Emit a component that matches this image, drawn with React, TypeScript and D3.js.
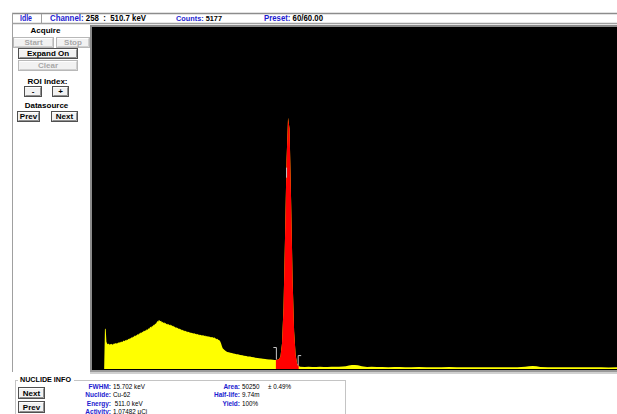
import React from 'react';
import * as d3 from 'd3';

// Spectrum data
const lowStartChannel = 17; // counts below are for channels 17, 18, 19, ...
const lowCounts: number[] = [
  820, 835, 560, 520, 510, 525, 500, 515, 505, 520, 498, 510, 530, 515, 535, 520, 540, 528, 550, 540,
  560, 548, 565, 555, 575, 590, 570, 598, 585, 610, 600, 625, 612, 640, 630, 655, 645, 670, 660, 690,
  675, 700, 690, 720, 705, 735, 725, 750, 740, 770, 755, 790, 780, 800, 790, 820, 805, 840, 825, 850,
  870, 855, 890, 875, 910, 900, 940, 925, 960, 990, 975, 1010, 1000, 985, 995, 960, 975, 950, 965, 940,
  950, 920, 935, 910, 925, 900, 915, 890, 905, 880, 890, 865, 875, 850, 860, 838, 848, 825, 835, 812,
  822, 800, 808, 790, 798, 780, 788, 770, 778, 760, 768, 752, 760, 742, 748, 735, 742, 728, 735, 720,
  728, 712, 720, 705, 712, 698, 706, 692, 700, 685, 694, 680, 688, 672, 682, 668, 676, 660, 670, 652,
  662, 648, 660, 640, 652, 628, 636, 615, 622, 605, 598, 585, 560, 520, 470, 430,
];
const comptonTail: [number, number][] = [
  [174, 395], [176, 372], [178, 352], [180, 345], [182, 334], [184, 330], [186, 320], [188, 316],
  [190, 305], [192, 302], [195, 290], [198, 285], [200, 275], [203, 270], [205, 260], [208, 256],
  [210, 245], [213, 240], [215, 230], [218, 226], [220, 220], [223, 216], [225, 210], [228, 206],
  [230, 200], [233, 198], [235, 195], [238, 191], [240, 188],
];
const roiPeak: [number, number][] = [
  [242, 185], [244, 190], [246, 200], [248, 260], [250, 520], [252, 1250], [254, 2700],
  [256, 4300], [258, 5177], [260, 4950], [262, 3500], [264, 1850], [266, 780], [268, 290],
  [270, 110], [272, 60],
];
const highTail: [number, number][] = [
  [274, 45], [280, 42], [285, 46], [290, 40], [295, 43], [300, 44], [305, 39], [310, 41], [315, 46],
  [320, 45], [325, 48], [330, 50], [334, 58], [338, 70], [342, 80], [346, 84], [350, 78], [355, 55],
  [362, 42], [368, 44], [375, 40], [382, 42], [390, 38], [398, 41], [405, 40], [412, 36], [420, 37],
  [430, 40], [440, 38], [450, 35], [460, 36], [470, 39], [480, 37], [490, 34], [500, 35], [510, 38],
  [520, 36], [530, 34], [540, 35], [550, 38], [560, 37], [570, 45], [575, 58], [580, 62], [585, 55],
  [590, 40], [600, 37], [610, 36], [620, 38], [630, 35], [640, 36], [650, 34], [660, 37], [670, 36],
  [680, 33], [690, 34], [700, 35], [710, 33],
];
const cursorChannel = 258;
const cursorCounts = 4150;
const roiBounds = [242, 272];

const statusLabels = ['Channel:', 'Counts:', 'Preset:'];
const statusValues = ['258  :  510.7 keV', '5177', '60/60.00'];
const nuclideLabelsL = ['FWHM:', 'Nuclide:', 'Energy:', 'Activity:'];
const nuclideValuesL = ['15.702 keV', 'Cu-62', ' 511.0 keV', '1.07482 μCi'];
const nuclideLabelsR = ['Area:', 'Half-life:', 'Yield:'];
const nuclideValuesR = ['50250', '9.74m', '100%'];

const FONT = '"Liberation Sans", Arial, sans-serif';
const BLUE = '#1c1cd0';

function Btn({ x, y, w, h, label, disabled }: { x: number; y: number; w: number; h: number; label: string; disabled?: boolean }) {
  return (
    <g>
      <rect x={x + 0.5} y={y + 0.5} width={w} height={h} fill="#f2f2f2" stroke={disabled ? '#b8b8b8' : '#505050'} />
      <line x1={x + 1.5} y1={y + 1.5} x2={x + w - 0.5} y2={y + 1.5} stroke="#ffffff" />
      <line x1={x + w - 0.5} y1={y + 1.5} x2={x + w - 0.5} y2={y + h - 0.5} stroke={disabled ? '#d0d0d0' : '#909090'} />
      <line x1={x + 1.5} y1={y + h - 0.5} x2={x + w - 0.5} y2={y + h - 0.5} stroke={disabled ? '#d0d0d0' : '#909090'} />
      <text x={x + w / 2 + 0.5} y={y + h - 2.5} textAnchor="middle" fontFamily={FONT} fontWeight="bold" fontSize={8}
        fill={disabled ? '#a8a8a8' : '#000'}>{label}</text>
    </g>
  );
}

export default function App() {
  const low: [number, number][] = lowCounts.map((c, i) => [lowStartChannel + i, c]);
  const spectrum: [number, number][] = [[0, 0], [lowStartChannel - 1, 0], ...low, ...comptonTail, ...roiPeak, ...highTail];
  const x = d3.scaleLinear().domain([0, 1024]).range([92, 92 + 1024 / 1.316]);
  const y = d3.scaleLinear().domain([0, 7070]).range([369, 26]);
  const area = d3.area<[number, number]>().x(d => x(d[0])).y0(y(0)).y1(d => y(d[1])).curve(d3.curveLinear);
  const yellowPath = area(spectrum) || '';
  const redPath = area(roiPeak) || '';
  const roiL = roiPeak[0];
  const roiR = roiPeak[roiPeak.length - 1];
  const cx = x(cursorChannel) - 1.5;
  const cy = y(cursorCounts);
  const st = { fontFamily: FONT, fontWeight: 'bold' as const, fontSize: 8.5 };

  return (
    <svg width={617} height={414} style={{ position: 'absolute', left: 0, top: 0, background: '#fff' }}>
      <rect x={0} y={0} width={617} height={414} fill="#fff" />
      {/* status bar */}
      <line x1={12} y1={13.5} x2={617} y2={13.5} stroke="#8c8c8c" strokeWidth={1.5} />
      <line x1={12} y1={23.5} x2={617} y2={23.5} stroke="#a0a0a0" strokeWidth={1.5} />
      <line x1={12.5} y1={13} x2={12.5} y2={372} stroke="#a0a0a0" />
      <line x1={41.5} y1={14} x2={41.5} y2={23} stroke="#a0a0a0" />
      <text x={20} y={21} {...st} fill={BLUE} textLength={12} lengthAdjust="spacingAndGlyphs">Idle</text>
      <text x={50} y={21} {...st} textLength={96} lengthAdjust="spacingAndGlyphs" style={{ whiteSpace: 'pre' }}>
        <tspan fill={BLUE}>{statusLabels[0]}</tspan><tspan fill="#000">{' ' + statusValues[0]}</tspan>
      </text>
      <text x={176} y={21} {...st} fontSize={7.6} textLength={46} lengthAdjust="spacingAndGlyphs" style={{ whiteSpace: 'pre' }}>
        <tspan fill={BLUE}>{statusLabels[1]}</tspan><tspan fill="#000">{' ' + statusValues[1]}</tspan>
      </text>
      <text x={264} y={21} {...st} textLength={59} lengthAdjust="spacingAndGlyphs" style={{ whiteSpace: 'pre' }}>
        <tspan fill={BLUE}>{statusLabels[2]}</tspan><tspan fill="#000">{' ' + statusValues[2]}</tspan>
      </text>

      {/* left control panel */}
      <text x={45.5} y={33} textAnchor="middle" fontFamily={FONT} fontWeight="bold" fontSize={8} fill="#000">Acquire</text>
      <Btn x={13} y={37} w={40} h={10} label="Start" disabled />
      <Btn x={56} y={37} w={33} h={10} label="Stop" disabled />
      <Btn x={18} y={48} w={59} h={10} label="Expand On" />
      <Btn x={18} y={60} w={59} h={10} label="Clear" disabled />
      <text x={47.5} y={84} textAnchor="middle" fontFamily={FONT} fontWeight="bold" fontSize={8} fill="#000">ROI Index:</text>
      <Btn x={24} y={86} w={17} h={10} label="-" />
      <Btn x={52} y={86} w={16} h={10} label="+" />
      <text x={46.5} y={108} textAnchor="middle" fontFamily={FONT} fontWeight="bold" fontSize={8} fill="#000">Datasource</text>
      <Btn x={17} y={111} w={22} h={10} label="Prev" />
      <Btn x={51} y={111} w={26} h={10} label="Next" />

      {/* spectrum plot */}
      <rect x={90} y={25} width={527} height={2} fill="#8a8a8a" />
      <rect x={90} y={26} width={2} height={345} fill="#8a8a8a" />
      <rect x={92} y={27} width={525} height={343} fill="#000" />
      <path d={yellowPath} fill="#ffff00" />
      <path d={redPath} fill="#ff0000" />
      <path d={`M${x(roiBounds[0]) - 2.5},${y(roiL[1]) - 12.5} H${x(roiBounds[0]) + 0.5} V${y(roiL[1]) - 0.5}`} fill="none" stroke="#c8c8c8" strokeWidth={1} />
      <path d={`M${x(roiBounds[1]) + 2.5},${y(roiR[1]) - 10.5} H${x(roiBounds[1]) - 0.5} V${y(roiR[1]) - 0.5}`} fill="none" stroke="#c8c8c8" strokeWidth={1} />
      <line x1={cx} y1={cy} x2={cx} y2={cy + 10} stroke="#c0c0c0" strokeWidth={1} />
      <rect x={90} y={370} width={527} height={2} fill="#9a9a9a" />
      <rect x={90} y={372} width={527} height={2} fill="#d0d0d0" />

      {/* nuclide info */}
      <rect x={15.5} y={380.5} width={330} height={40} fill="none" stroke="#c4c4c4" />
      <rect x={18} y={376} width={56} height={7} fill="#fff" />
      <text x={20} y={382} fontFamily={FONT} fontWeight="bold" fontSize={7.5} fill="#000" textLength={51} lengthAdjust="spacingAndGlyphs">NUCLIDE INFO</text>
      <Btn x={18} y={387} w={26} h={11} label="Next" />
      <Btn x={18} y={401} w={26} h={11} label="Prev" />
      {nuclideLabelsL.map((t, i) => (
        <text key={t} x={111} y={389 + i * 8.3} textAnchor="end" fontFamily={FONT} fontWeight="bold" fontSize={6.5} fill={BLUE}>{t}</text>
      ))}
      {nuclideValuesL.map((t, i) => (
        <text key={t} x={113} y={389 + i * 8.3} fontFamily={FONT} fontSize={6.3} fill="#000" style={{ whiteSpace: 'pre' }}>{t}</text>
      ))}
      {nuclideLabelsR.map((t, i) => (
        <text key={t} x={240} y={389 + i * 8.3} textAnchor="end" fontFamily={FONT} fontWeight="bold" fontSize={6.5} fill={BLUE}>{t}</text>
      ))}
      {nuclideValuesR.map((t, i) => (
        <text key={t} x={242} y={389 + i * 8.3} fontFamily={FONT} fontSize={6.3} fill="#000">{t}</text>
      ))}
      <text x={268} y={389} fontFamily={FONT} fontSize={6.3} fill="#000">± 0.49%</text>
    </svg>
  );
}
